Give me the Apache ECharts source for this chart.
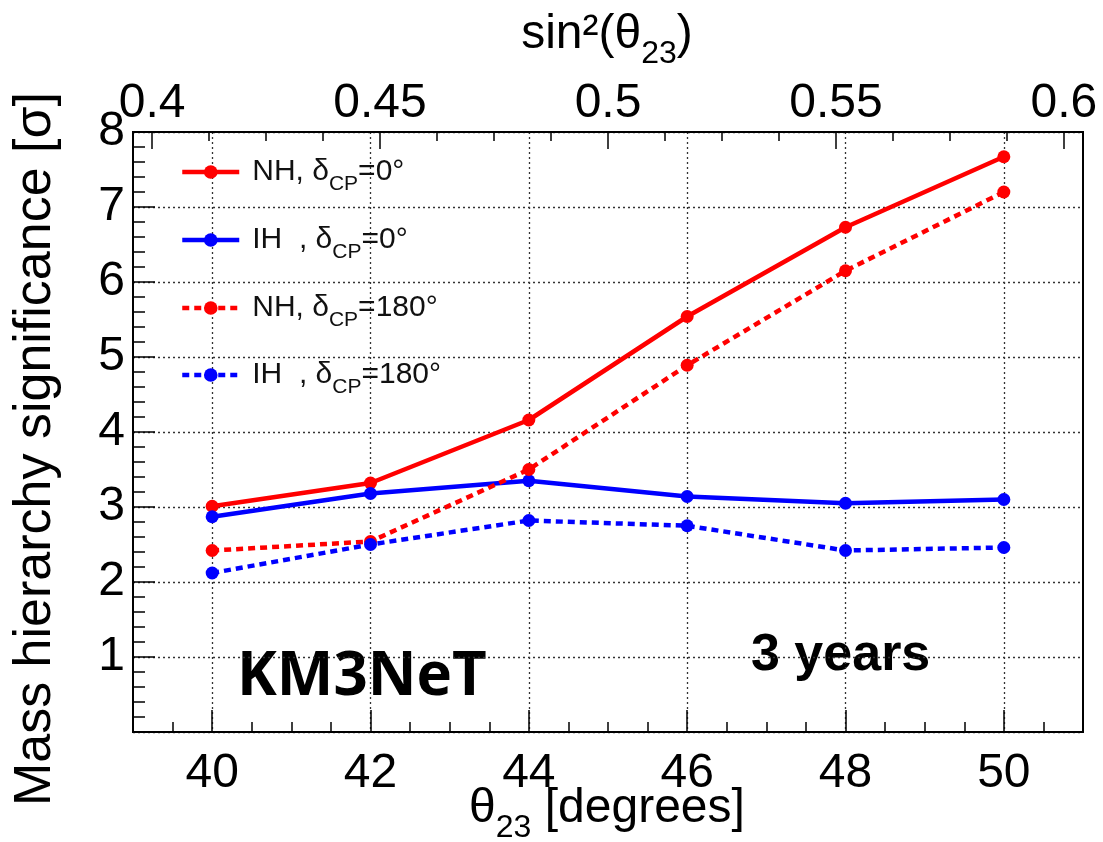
<!DOCTYPE html>
<html>
<head>
<meta charset="utf-8">
<script src="https://cdn.jsdelivr.net/npm/echarts@6/dist/echarts.min.js"></script>
<style>
  html, body { margin: 0; padding: 0; background: #fff; }
  #chart { width: 1103px; height: 842px; }
</style>
</head>
<body>
<div id="chart"></div>
<script>
// θ23 values (degrees) at which the sensitivity was evaluated
const theta = [40, 42, 44, 46, 48, 50];

// Mass hierarchy significance [σ]
const nhCp0   = [3.01, 3.32, 4.16, 5.54, 6.73, 7.67];
const ihCp0   = [2.87, 3.18, 3.35, 3.14, 3.05, 3.10];
const nhCp180 = [2.42, 2.54, 3.50, 4.89, 6.15, 7.20];
const ihCp180 = [2.12, 2.50, 2.82, 2.75, 2.42, 2.46];

// Axis ranges and tick labels
const thetaRange = [39, 51];
const thetaLabels = [40, 42, 44, 46, 48, 50];
const thetaMinorStep = 0.5;
const sigmaRange = [0, 8];
const sin2Labels = ['0.4', '0.45', '0.5', '0.55', '0.6'];
const sin2MinorDiv = 4;

// Legend entries: [main, subscript, tail]
const legendText = [
  ['NH, δ', 'CP', '=0°'],
  ['IH  , δ', 'CP', '=0°'],
  ['NH, δ', 'CP', '=180°'],
  ['IH  , δ', 'CP', '=180°']
];
const seriesNames = ['NH0', 'IH0', 'NH180', 'IH180'];

const FONT = '"Liberation Sans", Arial, Helvetica, sans-serif';

// Top axis: sin²θ23, linear between the values at 40° and 50°
const s2 = d => Math.pow(Math.sin(d * Math.PI / 180), 2);
const tA = thetaLabels[0], tB = thetaLabels[thetaLabels.length - 1];
const slope = (s2(tB) - s2(tA)) / (tB - tA);
const sin2Range = [s2(tA) + (thetaRange[0] - tA) * slope, s2(tA) + (thetaRange[1] - tA) * slope];
const sin2Major = sin2Labels.map(Number);
const sin2Minor = [];
for (let i = 0; i < sin2Major.length - 1; i++) {
  const step = (sin2Major[i + 1] - sin2Major[i]) / sin2MinorDiv;
  for (let k = 0; k < sin2MinorDiv; k++) sin2Minor.push(+(sin2Major[i] + k * step).toFixed(5));
}
sin2Minor.push(sin2Major[sin2Major.length - 1]);

const thetaMinor = [];
for (let v = thetaRange[0] + thetaMinorStep; v < thetaRange[1]; v += thetaMinorStep) thetaMinor.push(v);

const gridLine = { show: true, lineStyle: { color: '#333', width: 1.3, type: [2, 3] } };
const blackLine = { show: true, lineStyle: { color: '#000', width: 2 } };

function makeSeries(name, values, color, dashed) {
  return {
    name: name,
    type: 'line',
    xAxisIndex: 0,
    yAxisIndex: 0,
    data: theta.map((t, i) => [t, values[i]]),
    symbol: 'circle',
    symbolSize: 13,
    lineStyle: { color: color, width: 4.5, type: dashed ? [7, 5] : 'solid' },
    itemStyle: { color: color },
    emphasis: { disabled: true },
    z: 3
  };
}

const legendRich = {
  a0: { fontFamily: FONT, fontSize: 30, color: '#111', padding: [0, 0, 0, 8] },
  a:  { fontFamily: FONT, fontSize: 30, color: '#111' },
  s:  { fontFamily: FONT, fontSize: 21, color: '#111', padding: [25, 0, 0, 0] }
};
const legendRows = [175, 243, 311, 378];

const chart = echarts.init(document.getElementById('chart'), null, { renderer: 'canvas' });
chart.setOption({
  animation: false,
  backgroundColor: '#fff',
  grid: {
    left: 133, right: 20, top: 132, bottom: 110,
    show: true, borderColor: '#000', borderWidth: 2,
    containLabel: false, outerBoundsMode: 'none'
  },
  legend: seriesNames.map((n, i) => ({
    data: [n],
    orient: 'vertical',
    left: 175,
    top: legendRows[i] - 23,
    itemWidth: 57,
    itemHeight: 17,
    selectedMode: false,
    lineStyle: { width: 4.5 },
    formatter: () => '{a0|' + legendText[i][0] + '}{s|' + legendText[i][1] + '}{a|' + legendText[i][2] + '}',
    textStyle: { rich: legendRich }
  })),
  xAxis: [
    {
      type: 'value', position: 'bottom', min: thetaRange[0], max: thetaRange[1], interval: 1,
      axisLine: blackLine,
      axisTick: { show: true, inside: true, length: 22, customValues: thetaLabels, lineStyle: { color: '#000', width: 1.5 } },
      axisLabel: { show: true, customValues: thetaLabels, margin: 18, fontFamily: FONT, fontSize: 48, color: '#000' },
      splitLine: gridLine
    },
    {
      type: 'value', position: 'bottom', min: thetaRange[0], max: thetaRange[1], interval: 1,
      axisLine: { show: false },
      axisTick: { show: true, inside: true, length: 10, customValues: thetaMinor, lineStyle: { color: '#000', width: 1.5 } },
      axisLabel: { show: false },
      splitLine: { show: false }
    },
    {
      type: 'value', position: 'top', min: sin2Range[0], max: sin2Range[1],
      axisLine: blackLine,
      axisTick: { show: true, inside: true, length: 17, customValues: sin2Major, lineStyle: { color: '#000', width: 1.5 } },
      axisLabel: {
        show: true, customValues: sin2Major, margin: 4, fontFamily: FONT, fontSize: 48, color: '#000',
        formatter: v => sin2Labels[sin2Major.findIndex(m => Math.abs(m - v) < 1e-6)]
      },
      splitLine: { show: false }
    },
    {
      type: 'value', position: 'top', min: sin2Range[0], max: sin2Range[1],
      axisLine: { show: false },
      axisTick: { show: true, inside: true, length: 9, customValues: sin2Minor, lineStyle: { color: '#000', width: 1.5 } },
      axisLabel: { show: false },
      splitLine: { show: false }
    }
  ],
  yAxis: [
    {
      type: 'value', position: 'left', min: sigmaRange[0], max: sigmaRange[1], interval: 1,
      axisLine: blackLine,
      axisTick: { show: true, inside: true, length: 22, lineStyle: { color: '#000', width: 1.5 } },
      minorTick: { show: true, splitNumber: 5, length: 12, lineStyle: { color: '#000', width: 1.5 } },
      axisLabel: {
        show: true, margin: 8, fontFamily: FONT, fontSize: 48, color: '#000',
        formatter: v => (v === sigmaRange[0] ? '' : String(v))
      },
      splitLine: gridLine
    }
  ],
  series: [
    makeSeries(seriesNames[0], nhCp0, '#ff0000', false),
    makeSeries(seriesNames[1], ihCp0, '#0000ff', false),
    makeSeries(seriesNames[2], nhCp180, '#ff0000', true),
    makeSeries(seriesNames[3], ihCp180, '#0000ff', true)
  ],
  graphic: [
    {
      type: 'text', x: 607, y: 35,
      style: {
        text: '{m|sin²(θ}{s|23}{m|)}', align: 'center', verticalAlign: 'middle',
        rich: {
          m: { fontFamily: FONT, fontSize: 48, fill: '#000', color: '#000' },
          s: { fontFamily: FONT, fontSize: 32, fill: '#000', color: '#000', padding: [38, 0, 0, 0] }
        }
      }
    },
    {
      type: 'text', x: 607, y: 809,
      style: {
        text: '{m|θ}{s|23}{m| [degrees]}', align: 'center', verticalAlign: 'middle',
        rich: {
          m: { fontFamily: FONT, fontSize: 48, fill: '#000', color: '#000' },
          s: { fontFamily: FONT, fontSize: 32, fill: '#000', color: '#000', padding: [38, 0, 0, 0] }
        }
      }
    },
    {
      type: 'text', x: 36, y: 449, rotation: Math.PI / 2,
      style: {
        text: 'Mass hierarchy significance [σ]', align: 'center', verticalAlign: 'middle',
        fontFamily: FONT, fontSize: 52, fill: '#000'
      }
    },
    {
      type: 'text', x: 237, y: 678,
      style: {
        text: 'KM3NeT', align: 'left', verticalAlign: 'middle',
        fontFamily: '"Open Sans", "Noto Sans", sans-serif', fontWeight: 'bold', fontSize: 60, fill: '#000'
      }
    },
    {
      type: 'text', x: 751, y: 656,
      style: {
        text: '3 years', align: 'left', verticalAlign: 'middle',
        fontFamily: FONT, fontWeight: 'bold', fontSize: 52, fill: '#000'
      }
    }
  ]
});
</script>
</body>
</html>
